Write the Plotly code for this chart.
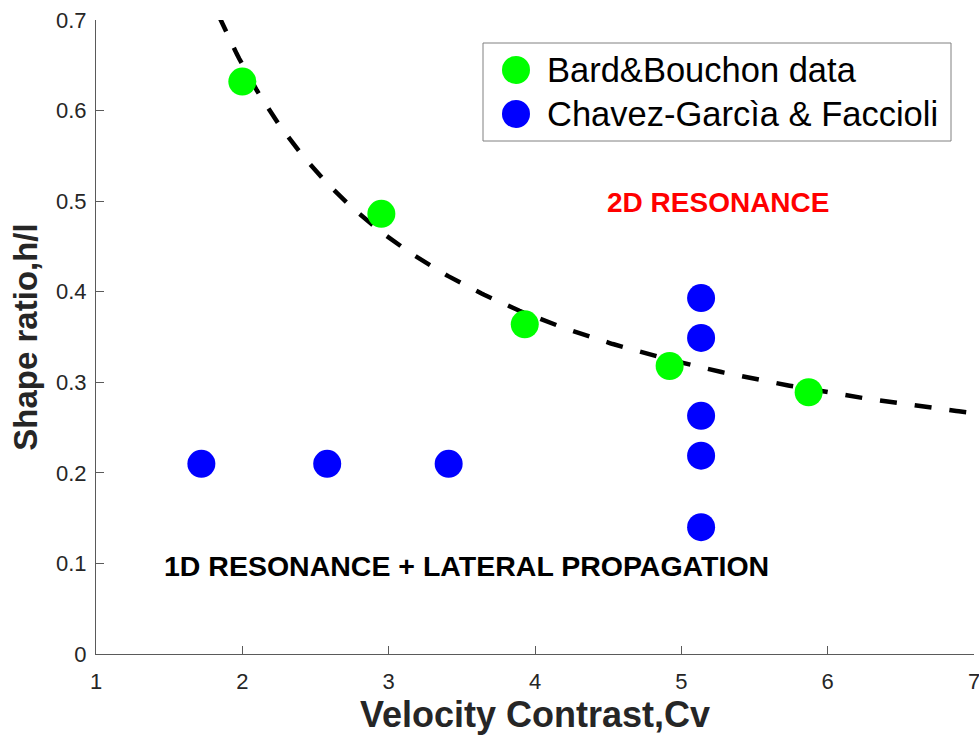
import numpy as np
import plotly.graph_objects as go

# Bard & Bouchon data: velocity contrast vs shape ratio
bb_cv = [2.00, 2.95, 3.93, 4.92, 5.87]
bb_hl = [0.632, 0.486, 0.364, 0.318, 0.289]

# Chavez-Garcìa & Faccioli cases
cgf_cv = [1.72, 2.58, 3.41, 5.135, 5.135, 5.135, 5.135, 5.135]
cgf_hl = [0.210, 0.210, 0.210, 0.393, 0.349, 0.263, 0.219, 0.140]

# Critical shape ratio curve h/l = A / (Cv - C) + B
CURVE_A, CURVE_B, CURVE_C = 0.8766, 0.1351, 0.30
curve_cv = np.linspace(1.84, 7.0, 300)
curve_hl = CURVE_A / (curve_cv - CURVE_C) + CURVE_B

x_ticks = [1, 2, 3, 4, 5, 6, 7]
y_ticks = [0, 0.1, 0.2, 0.3, 0.4, 0.5, 0.6, 0.7]
y_tick_text = ["0", "0.1", "0.2", "0.3", "0.4", "0.5", "0.6", "0.7"]

legend_names = ["Bard&Bouchon data", "Chavez-Garcìa & Faccioli"]
GREEN, BLUE = "#00ff00", "#0000ff"

FONT = "Liberation Sans, Arial, Helvetica, sans-serif"
AXIS_COLOR = "#262626"
LINE_COLOR = "#5a5a5a"

W, H = 979, 735
L, R, T, B = 96, 5, 20, 81
PW, PH = W - L - R, H - T - B


def px_x(p):
    return (p - L) / PW


def px_y(p):
    return (H - B - p) / PH


fig = go.Figure()

fig.add_trace(go.Scatter(
    x=curve_cv, y=curve_hl, mode="lines",
    line=dict(color="black", width=4.5, dash="17px,18px"),
    showlegend=False, hoverinfo="skip",
))
fig.add_trace(go.Scatter(
    x=bb_cv, y=bb_hl, mode="markers", name=legend_names[0],
    marker=dict(color=GREEN, size=28, line=dict(width=0)),
    showlegend=False,
))
fig.add_trace(go.Scatter(
    x=cgf_cv, y=cgf_hl, mode="markers", name=legend_names[1],
    marker=dict(color=BLUE, size=28, line=dict(width=0)),
    showlegend=False,
))

# Region labels
fig.add_annotation(x=5.25, y=0.499, text="<b>2D RESONANCE</b>", showarrow=False,
                   font=dict(family=FONT, size=28, color="#ff0000"))
fig.add_annotation(x=3.53, y=0.097, text="<b>1D RESONANCE + LATERAL PROPAGATION</b>",
                   showarrow=False, font=dict(family=FONT, size=28.5, color="black"))

# Legend box with large markers
fig.add_shape(type="rect", xref="paper", yref="paper",
              x0=px_x(483), x1=px_x(951), y0=px_y(141), y1=px_y(43),
              line=dict(color="#808080", width=1), fillcolor="white", layer="above")
for name, color, py in zip(legend_names, [GREEN, BLUE], [70, 114]):
    fig.add_shape(type="circle", xref="paper", yref="paper",
                  xsizemode="pixel", ysizemode="pixel",
                  xanchor=px_x(516), yanchor=px_y(py),
                  x0=-14, x1=14, y0=-14, y1=14,
                  fillcolor=color, line=dict(width=0), layer="above")
    fig.add_annotation(xref="paper", yref="paper", x=px_x(545), y=px_y(py),
                       xanchor="left", yanchor="middle", text=name, showarrow=False,
                       font=dict(family=FONT, size=34.5, color="black"))

fig.update_xaxes(
    range=[1, 7], tickvals=x_ticks, ticks="inside", ticklen=8, tickcolor=LINE_COLOR,
    showline=True, linecolor=LINE_COLOR, linewidth=1, showgrid=False, zeroline=False,
    tickfont=dict(family=FONT, size=22, color=AXIS_COLOR),
    ticklabelstandoff=8, ticklabeloverflow="allow", automargin=False,
    title=dict(text="<b>Velocity Contrast,Cv</b>", standoff=14,
               font=dict(family=FONT, size=36, color=AXIS_COLOR)),
)
fig.update_yaxes(
    range=[0, 0.7], tickvals=y_ticks, ticktext=y_tick_text, ticks="inside", ticklen=8,
    tickcolor=LINE_COLOR, showline=True, linecolor=LINE_COLOR, linewidth=1,
    showgrid=False, zeroline=False, automargin=False,
    tickfont=dict(family=FONT, size=22, color=AXIS_COLOR),
    ticklabelstandoff=4,
    title=dict(text="<b>Shape ratio,h/l</b>", standoff=8,
               font=dict(family=FONT, size=33, color=AXIS_COLOR)),
)

fig.update_layout(
    width=W, height=H, margin=dict(l=L, r=R, t=T, b=B, autoexpand=False),
    plot_bgcolor="white", paper_bgcolor="white", showlegend=False,
)

fig.write_html("out.html")
